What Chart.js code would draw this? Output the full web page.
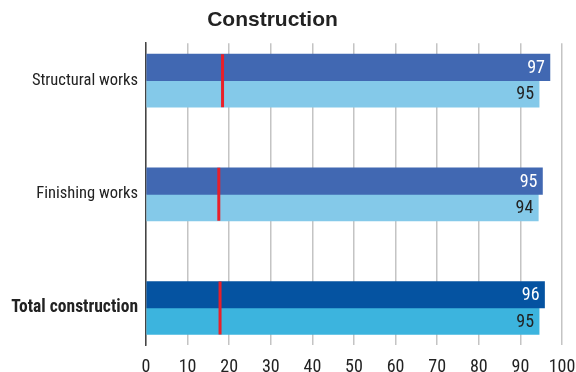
<!DOCTYPE html>
<html>
<head>
<meta charset="utf-8">
<script src="https://cdn.jsdelivr.net/npm/chart.js@4"></script>
<style>
  html, body { margin: 0; padding: 0; background: #fff; }
  #wrap { width: 576px; height: 372px; }
</style>
</head>
<body>
<div id="wrap"><canvas id="construction"></canvas></div>
<script>
const categories = ['Structural works', 'Finishing works', 'Total construction']
const upperValues = [97.1, 95.3, 95.8]
const lowerValues = [94.5, 94.3, 94.5]
const markerValues = [18.4, 17.5, 17.8]
const xTicks = [0, 10, 20, 30, 40, 50, 60, 70, 80, 90, 100]

const upperColors = ['#4168b2', '#4168b2', '#0553a1']
const lowerColors = ['#84c9e9', '#84c9e9', '#3cb4de']
const labelFont = '"Roboto Condensed", "Liberation Sans", sans-serif'
const barSize = 26.5

// value labels at the right end inside each bar
const valueLabels = {
  id: 'valueLabels',
  afterDatasetsDraw(chart) {
    const ctx = chart.ctx
    ctx.save()
    ctx.font = `18px ${labelFont}`
    ctx.textAlign = 'right'
    ctx.textBaseline = 'middle'
    ;[0, 1].forEach(di => {
      const meta = chart.getDatasetMeta(di)
      meta.data.forEach((bar, i) => {
        const v = chart.data.datasets[di].data[i].x
        ctx.fillStyle = di === 0 ? '#ffffff' : '#222222'
        ctx.fillText(Math.round(v), bar.x - 5, bar.y + 1)
      })
    })
    ctx.restore()
  },
}

// move the title a bit left, as in the original
const titleShift = {
  id: 'titleShift',
  afterLayout(chart) {
    chart.titleBlock.right = 545
  },
}

const toPoints = (vals) => vals.map((v, i) => ({ x: v, y: i }))

new Chart(document.getElementById('construction'), {
  type: 'bar',
  data: {
    datasets: [
      {
        data: toPoints(upperValues),
        backgroundColor: upperColors,
        barThickness: barSize,
        order: 2,
      },
      {
        data: toPoints(lowerValues),
        backgroundColor: lowerColors,
        barThickness: barSize,
        order: 2,
      },
      {
        type: 'scatter',
        data: toPoints(markerValues),
        pointStyle: 'line',
        rotation: 90,
        radius: barSize,
        hoverRadius: barSize,
        borderColor: '#e8202a',
        borderWidth: 3,
        order: 1,
      },
    ],
  },
  options: {
    responsive: true,
    maintainAspectRatio: false,
    animation: false,
    indexAxis: 'y',
    layout: { autoPadding: false, padding: { left: 0, right: 14, top: 0, bottom: 0 } },
    plugins: {
      legend: { display: false },
      tooltip: { enabled: false },
      title: {
        display: true,
        text: 'Construction',
        color: '#222222',
        font: { family: '"Liberation Sans", Arial, sans-serif', size: 21, weight: 'bold', lineHeight: 1.2 },
        padding: { top: 8, bottom: 10 },
      },
    },
    scales: {
      x: {
        type: 'linear',
        min: 0,
        max: 100,
        afterBuildTicks(scale) {
          scale.ticks = xTicks.map(v => ({ value: v }))
        },
        afterFit(scale) {
          scale.paddingLeft = 0
          scale.paddingRight = 0
          scale.height = 27
        },
        grid: { color: '#c4c4c4', lineWidth: 1.5, drawTicks: false },
        border: { display: false },
        ticks: {
          color: '#222222',
          padding: 12,
          font: { family: labelFont, size: 18 },
        },
      },
      y: {
        type: 'linear',
        reverse: true,
        offset: false,
        min: -0.33,
        max: 2.326,
        afterBuildTicks(scale) {
          scale.ticks = categories.map((c, i) => ({ value: i }))
        },
        afterFit(scale) {
          scale.width = 146
        },
        grid: { display: false, drawTicks: false },
        border: { display: true, color: '#444444', width: 1.5 },
        ticks: {
          color: '#222222',
          padding: 8,
          callback: (v) => categories[v],
          font: (ctx) => ({
            family: labelFont,
            size: ctx.index === 2 ? 17.5 : 16.5,
            weight: ctx.index === 2 ? 'bold' : 'normal',
          }),
        },
      },
    },
  },
  plugins: [valueLabels, titleShift],
})
</script>
</body>
</html>
